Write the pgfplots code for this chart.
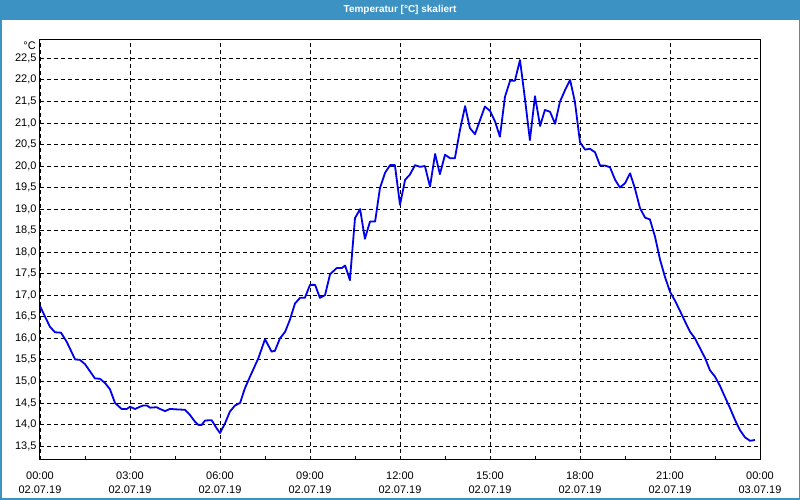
\documentclass[border=0pt]{standalone}
\usepackage{pgfplots}
\pgfplotsset{compat=1.18}
\usepackage{fontspec}
\setmainfont{Liberation Sans}
\definecolor{titlebar}{RGB}{61,146,196}
\definecolor{curve}{RGB}{0,0,235}
\pgfplotstableread{
h T
0 16.75
0.17 16.50
0.33 16.27
0.5 16.14
0.7 16.13
0.89 15.92
1.17 15.51
1.33 15.50
1.5 15.40
1.83 15.07
2.0 15.06
2.17 14.96
2.33 14.82
2.5 14.50
2.72 14.36
2.89 14.36
3.0 14.41
3.17 14.36
3.33 14.41
3.44 14.44
3.56 14.44
3.67 14.39
3.89 14.40
4.0 14.36
4.17 14.31
4.33 14.36
4.56 14.35
4.83 14.34
5.0 14.22
5.17 14.06
5.28 13.99
5.39 13.99
5.5 14.09
5.67 14.10
5.72 14.10
5.89 13.91
6.0 13.80
6.17 14.03
6.33 14.30
6.5 14.44
6.67 14.50
6.83 14.84
7.0 15.11
7.28 15.54
7.5 15.98
7.72 15.69
7.83 15.71
8.0 16.00
8.17 16.15
8.33 16.43
8.5 16.81
8.67 16.94
8.83 16.94
9.0 17.24
9.17 17.24
9.33 16.94
9.5 17.00
9.67 17.49
9.89 17.63
10.06 17.63
10.17 17.69
10.33 17.35
10.5 18.79
10.67 19.00
10.83 18.31
11.0 18.71
11.17 18.71
11.33 19.48
11.5 19.84
11.67 20.02
11.83 20.02
12.0 19.10
12.17 19.68
12.33 19.80
12.5 20.02
12.67 19.98
12.83 20.00
13.0 19.52
13.17 20.28
13.33 19.81
13.5 20.26
13.67 20.18
13.83 20.18
14.0 20.84
14.17 21.39
14.33 20.88
14.5 20.74
14.67 21.07
14.83 21.38
15.0 21.28
15.17 21.03
15.33 20.68
15.5 21.61
15.67 21.98
15.83 21.98
16.0 22.46
16.17 21.53
16.33 20.60
16.5 21.62
16.67 20.93
16.83 21.30
17.0 21.26
17.17 20.98
17.33 21.49
17.5 21.76
17.67 22.00
17.83 21.49
18.0 20.55
18.17 20.38
18.33 20.40
18.5 20.32
18.67 20.01
18.83 20.01
19.0 19.97
19.17 19.68
19.33 19.50
19.5 19.60
19.67 19.83
19.83 19.48
20.0 19.02
20.17 18.80
20.33 18.76
20.5 18.36
20.67 17.82
20.83 17.43
21.0 17.08
21.17 16.87
21.33 16.64
21.5 16.39
21.67 16.15
21.83 16.00
22.0 15.77
22.17 15.54
22.33 15.26
22.5 15.11
22.67 14.89
22.83 14.64
23.0 14.38
23.17 14.10
23.33 13.87
23.5 13.70
23.67 13.62
23.83 13.64
}\tempdata
\begin{document}
\begin{tikzpicture}
\useasboundingbox (0pt,0pt) rectangle (800pt,500pt);
\fill[white] (0pt,0pt) rectangle (800pt,500pt);
\fill[titlebar] (0pt,480pt) rectangle (800pt,500pt);
\draw[titlebar, line width=1.5pt] (0.75pt,0.75pt) rectangle (799.25pt,499.25pt);
\node[text=white, font=\fontsize{10}{12}\selectfont\bfseries] at (400pt,490pt) {Temperatur [°C] skaliert};
\node[anchor=east, font=\fontsize{11}{13}\selectfont, inner sep=0pt] at (36pt,454.3pt) {°C};
\begin{axis}[
  at={(40pt,40pt)}, anchor=south west,
  scale only axis, width=720pt, height=420pt,
  xmin=0, xmax=24, ymin=13.175, ymax=22.925,
  axis line style={black, line width=1pt},
  grid=major,
  major grid style={black, dash pattern=on 4pt off 3pt, line width=0.8pt},
  xtick={0,3,...,24},
  minor xtick={1.5,4.5,...,22.5},
  ytick={13.5,14,...,22.5},
  xtick pos=lower,
  tick align=inside,
  major tick length=4pt, minor tick length=4pt,
  xtick style={black, line width=0.8pt},
  ytick style={draw=none},
  xticklabels={{00:00\\02.07.19},{03:00\\02.07.19},{06:00\\02.07.19},{09:00\\02.07.19},{12:00\\02.07.19},{15:00\\02.07.19},{18:00\\02.07.19},{21:00\\02.07.19},{00:00\\03.07.19}},
  xticklabel style={align=center, font=\fontsize{11}{14}\selectfont, yshift=-8pt},
  yticklabel style={font=\fontsize{11}{13}\selectfont},
  /pgf/number format/.cd, fixed, fixed zerofill, precision=1, use comma, assume math mode=true,
]
\addplot[curve, line width=1.8pt, line join=round] table[x=h, y=T] {\tempdata};
\end{axis}
\end{tikzpicture}
\end{document}
